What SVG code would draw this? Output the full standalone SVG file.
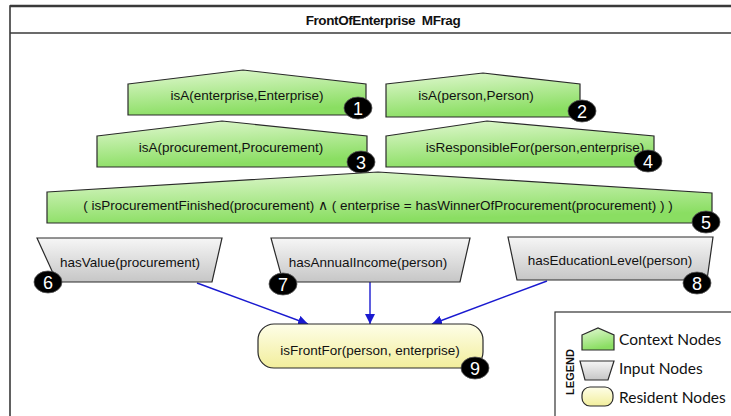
<svg xmlns="http://www.w3.org/2000/svg" width="731" height="416" viewBox="0 0 731 416">
<defs>
<linearGradient id="gCtx" x1="0" y1="0" x2="0.3" y2="1">
<stop offset="0" stop-color="#e2f8d2"/>
<stop offset="1" stop-color="#8ade62"/>
</linearGradient>
<linearGradient id="gIn" x1="0" y1="0" x2="0" y2="1">
<stop offset="0" stop-color="#f6f6f6"/>
<stop offset="1" stop-color="#c6c6c6"/>
</linearGradient>
<linearGradient id="gRes" x1="0" y1="0" x2="0" y2="1">
<stop offset="0" stop-color="#fefee8"/>
<stop offset="1" stop-color="#f2ee9c"/>
</linearGradient>
<marker id="arr" viewBox="0 0 10 10" refX="10" refY="5" markerWidth="10" markerHeight="10" markerUnits="userSpaceOnUse" orient="auto">
<path d="M0,0 L10,5 L0,10 Z" fill="#1a1ad0"/>
</marker>
</defs>
<style>
.ctx{fill:url(#gCtx);stroke:#2a2a2a;stroke-width:1.2}
.inp{fill:url(#gIn);stroke:#2a2a2a;stroke-width:1.2}
.res{fill:url(#gRes);stroke:#2a2a2a;stroke-width:1.2}
.lbl{font-family:"Liberation Sans",Arial,sans-serif;font-size:13.5px;fill:#111;text-anchor:middle}
.bdg ellipse{fill:#000;stroke:#555;stroke-width:0.8}
.bdg text{font-family:"Liberation Sans",Arial,sans-serif;font-size:18px;fill:#fff;text-anchor:middle}
.edge{stroke:#1a1ad0;stroke-width:1.4;fill:none;marker-end:url(#arr)}
.leg{font-family:Lato,"Open Sans",sans-serif;font-size:15.5px;fill:#111}
</style>
<rect width="731" height="416" fill="#fff"/>
<g id="frame">
<rect x="10" y="6" width="740" height="430" fill="#fff" stroke="#3a3a3a" stroke-width="1.6"/>
<line x1="10" y1="6" x2="731" y2="6" stroke="#3a3a3a" stroke-width="2.6"/>
<line x1="10" y1="33" x2="731" y2="33" stroke="#3a3a3a" stroke-width="1.4"/>
<text x="383" y="25" font-family="'Liberation Sans',Arial,sans-serif" font-size="13.5" font-weight="bold" text-anchor="middle" fill="#111" letter-spacing="-0.4">FrontOfEnterprise&#160; MFrag</text>
</g>
<g id="connectors">
<line class="edge" x1="197" y1="283" x2="308" y2="324"/>
<line class="edge" x1="370" y1="282" x2="370" y2="324"/>
<line class="edge" x1="547" y1="281" x2="432" y2="324"/>
</g>
<g id="node1">
<polygon class="ctx" points="128,84 243,70 366,84 366,115 128,115"/>
<text class="lbl" x="247" y="100">isA(enterprise,Enterprise)</text>
<g class="bdg"><ellipse cx="358" cy="108" rx="14" ry="11"/><text x="358" y="114.5">1</text></g>
</g>
<g id="node2">
<polygon class="ctx" points="386,84 483,73 580,84 580,117 386,117"/>
<text class="lbl" x="476" y="100">isA(person,Person)</text>
<g class="bdg"><ellipse cx="582" cy="111" rx="14" ry="11"/><text x="582" y="117.5">2</text></g>
</g>
<g id="node3">
<polygon class="ctx" points="97,136 222,121 367,136 367,167 97,167"/>
<text class="lbl" x="231" y="152">isA(procurement,Procurement)</text>
<g class="bdg"><ellipse cx="361" cy="162" rx="14" ry="11"/><text x="361" y="168.5">3</text></g>
</g>
<g id="node4">
<polygon class="ctx" points="386,136 487,121 654,136 654,167 386,167"/>
<text class="lbl" x="535" y="152">isResponsibleFor(person,enterprise)</text>
<g class="bdg"><ellipse cx="648" cy="161" rx="14" ry="11"/><text x="648" y="167.5">4</text></g>
</g>
<g id="node5">
<polygon class="ctx" points="47,192 378,172 712,193 712,223 47,223"/>
<text class="lbl" x="378" y="210">( isProcurementFinished(procurement) ∧ ( enterprise = hasWinnerOfProcurement(procurement) ) )</text>
<g class="bdg"><ellipse cx="706" cy="222" rx="14" ry="11"/><text x="706" y="228.5">5</text></g>
</g>
<g id="node6">
<polygon class="inp" points="37,238 222,238 212,282 57,282"/>
<text class="lbl" x="130" y="267">hasValue(procurement)</text>
<g class="bdg"><ellipse cx="48" cy="282" rx="14" ry="11"/><text x="48" y="288.5">6</text></g>
</g>
<g id="node7">
<polygon class="inp" points="271,238 470,238 460,282 283,282"/>
<text class="lbl" x="368" y="267">hasAnnualIncome(person)</text>
<g class="bdg"><ellipse cx="283" cy="284" rx="14" ry="11"/><text x="283" y="290.5">7</text></g>
</g>
<g id="node8">
<polygon class="inp" points="508,237 713,237 707,280 517,280"/>
<text class="lbl" x="610" y="265">hasEducationLevel(person)</text>
<g class="bdg"><ellipse cx="697" cy="283" rx="14" ry="11"/><text x="697" y="289.5">8</text></g>
</g>
<g id="node9">
<rect class="res" x="258" y="324" width="225" height="44" rx="16" ry="16"/>
<text class="lbl" x="370" y="355">isFrontFor(person, enterprise)</text>
<g class="bdg"><ellipse cx="475" cy="368" rx="14" ry="11"/><text x="475" y="374.5">9</text></g>
</g>
<g id="legend">
<rect x="555" y="312" width="200" height="120" fill="#fff" stroke="#333" stroke-width="1.2"/>
<text x="574" y="372" transform="rotate(-90 574 372)" font-family="'Liberation Sans',Arial,sans-serif" font-size="11" font-weight="bold" text-anchor="middle" fill="#111">LEGEND</text>
<polygon class="ctx" points="582,335 598,328 614,335 614,350 582,350"/>
<text class="leg" x="619" y="345">Context Nodes</text>
<polygon class="inp" points="580,361 614,361 608,380 585,380"/>
<text class="leg" x="619" y="374">Input Nodes</text>
<rect class="res" x="582" y="387" width="31" height="19" rx="8" ry="8"/>
<text class="leg" x="619" y="403">Resident Nodes</text>
</g>
</svg>
